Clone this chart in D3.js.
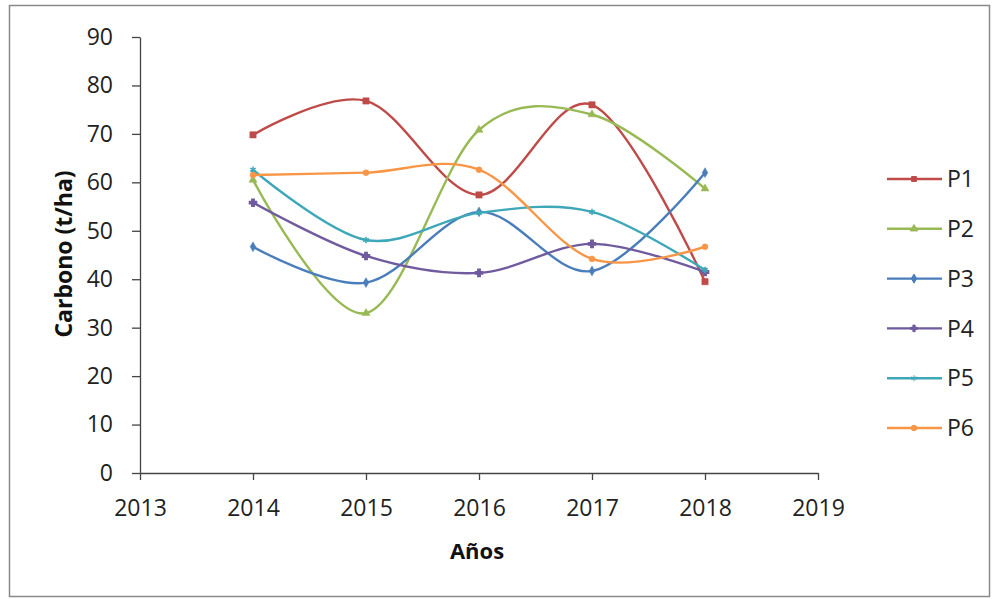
<!DOCTYPE html>
<html><head><meta charset="utf-8">
<script src="https://cdn.jsdelivr.net/npm/d3@7"></script>
<style>body{margin:0;background:#fff}svg{display:block}text{font-family:"Open Sans","Noto Sans",sans-serif}</style>
</head><body><svg id="c" width="992" height="599"></svg>
<script>
const years = [2014, 2015, 2016, 2017, 2018];
const seriesNames = ["P1", "P2", "P3", "P4", "P5", "P6"];
const P1 = [69.8, 76.8, 57.4, 76.0, 39.5];
const P2 = [60.5, 33.0, 70.8, 74.0, 58.7];
const P3 = [46.7, 39.3, 53.9, 41.7, 62.0];
const P4 = [55.8, 44.8, 41.3, 47.3, 41.5];
const P5 = [62.6, 48.1, 53.7, 53.9, 41.9];
const P6 = [61.5, 62.0, 62.6, 44.2, 46.7];
const xTicks = [2013, 2014, 2015, 2016, 2017, 2018, 2019];
const yTicks = [0, 10, 20, 30, 40, 50, 60, 70, 80, 90];
const colors = ["#BE4B48", "#98B954", "#4A7EBB", "#6F5B9E", "#3EA8B8", "#F79646"];
const symbols = [d3.symbolSquare, d3.symbolTriangle, d3.symbolDiamond, d3.symbolCross, d3.symbolAsterisk, d3.symbolCircle];
const data = [P1, P2, P3, P4, P5, P6];

const svg = d3.select("#c");
svg.append("rect").attr("x", 9.5).attr("y", 5.5).attr("width", 980).attr("height", 591)
  .attr("fill", "#fff").attr("stroke", "#8a8a8a").attr("stroke-width", 1.5);

const x = d3.scaleLinear().domain([2013, 2019]).range([140, 818]);
const y = d3.scaleLinear().domain([0, 90]).range([473, 37]);

const xAxis = svg.append("g").attr("transform", "translate(0,473)")
  .call(d3.axisBottom(x).tickValues(xTicks).tickFormat(d3.format("d")).tickSize(7).tickSizeOuter(0));
const yAxis = svg.append("g").attr("transform", "translate(140,0)")
  .call(d3.axisLeft(y).tickValues(yTicks).tickSize(8).tickSizeOuter(0));
[xAxis, yAxis].forEach(g => {
  g.select(".domain").attr("stroke", "#444").attr("stroke-width", 1.3);
  g.selectAll(".tick line").attr("stroke", "#444").attr("stroke-width", 1.3);
  g.selectAll(".tick text").attr("font-size", 23).attr("fill", "#222");
});
xAxis.selectAll(".tick text").attr("y", 27).attr("dy", "0.71em");
yAxis.selectAll(".tick text").attr("x", -27);

svg.append("text").attr("x", 477).attr("y", 559).attr("text-anchor", "middle")
  .attr("font-size", 22).attr("font-weight", "bold").attr("fill", "#111").text("Años");
svg.append("text").attr("transform", "translate(72,254) rotate(-90)").attr("text-anchor", "middle")
  .attr("font-size", 23).attr("font-weight", "bold").attr("fill", "#111").text("Carbono (t/ha)");

const line = d3.line().x((d, i) => x(years[i])).y(d => y(d)).curve(d3.curveCardinal.tension(0));

data.forEach((vals, k) => {
  const g = svg.append("g");
  g.append("path").attr("d", line(vals)).attr("fill", "none").attr("stroke", colors[k]).attr("stroke-width", 2.4);
  g.selectAll("path.m").data(vals).enter().append("path").attr("class", "m")
    .attr("transform", (d, i) => `translate(${x(years[i])},${y(d)})`)
    .attr("d", d3.symbol().type(symbols[k]).size(k === 0 ? 40 : 28))
    .attr("fill", colors[k]).attr("stroke", colors[k]).attr("stroke-width", k >= 3 && k <= 4 ? 1.5 : 0.5);
});

const leg = svg.append("g");
seriesNames.forEach((n, k) => {
  const ly = 179 + k * 49.8;
  leg.append("line").attr("x1", 887).attr("x2", 942).attr("y1", ly).attr("y2", ly)
    .attr("stroke", colors[k]).attr("stroke-width", 2.4);
  leg.append("path").attr("transform", `translate(914,${ly})`)
    .attr("d", d3.symbol().type(symbols[k]).size(24)).attr("fill", colors[k]).attr("stroke", colors[k]);
  leg.append("text").attr("x", 947).attr("y", ly).attr("dy", "0.36em")
    .attr("font-size", 23).attr("fill", "#222").text(n);
});
</script></body></html>
